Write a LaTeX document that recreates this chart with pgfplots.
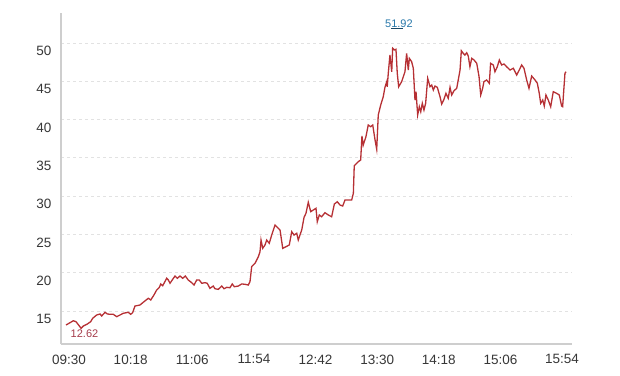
\documentclass[border=0pt]{standalone}
\usepackage{pgfplots}
\pgfplotsset{compat=1.18}
\usepackage{fontspec}
\setmainfont{Liberation Sans}
\definecolor{linered}{RGB}{182,48,52}
\definecolor{ticktext}{RGB}{55,55,55}
\definecolor{gridc}{RGB}{226,226,226}
\definecolor{axisc}{RGB}{206,206,206}
\definecolor{minc}{RGB}{165,60,75}
\definecolor{maxc}{RGB}{40,120,170}
\begin{document}
\begin{tikzpicture}
\useasboundingbox (-61bp,-32bp) rectangle (559bp,344bp);
\begin{axis}[
  at={(0,0)}, anchor=south west,
  scale only axis, width=511bp, height=331bp,
  xmin=-3.9, xmax=394.1, ymin=10.69, ymax=53.92,
  axis x line*=bottom, axis y line*=left,
  axis line style={draw=axisc, line width=1.5bp},
  major tick length=0pt,
  xtick={0,48,...,384},
  xticklabels={09:30,10:18,11:06,11:54,12:42,13:30,14:18,15:06,15:54},
  ytick={15,20,...,50},
  ymajorgrids,
  grid style={gridc, dash pattern=on 3bp off 3bp, line width=0.8bp},
  tick label style={font=\fontsize{13.5bp}{15bp}\selectfont, text=ticktext, inner sep=0pt},
  xticklabel style={anchor=north, yshift=-10.5bp, xshift=3bp},
  yticklabel style={anchor=east, xshift=-9.5bp, yshift=-8bp},
  /pgf/number format/assume math mode=true,
  clip=false,
]
\addplot[linered, line width=1.3bp] coordinates {
(0,13.17) (3.1,13.47) (5.7,13.73) (7.8,13.60) (10.4,13.04) (11.7,12.74) (13.5,13.04)
(16.6,13.30) (19.2,13.60) (20.8,14.05) (23.9,14.48) (26.5,14.61) (27.8,14.35) (30.4,14.83)
(32.2,14.61) (34.3,14.57) (36.8,14.57) (39.5,14.26) (42.1,14.48) (44.6,14.70) (48.5,14.83)
(50.4,14.57) (51.9,14.78) (53.7,15.65) (57.6,15.78) (60.7,16.21) (64.1,16.66) (66.0,16.44)
(68.5,17.09) (70.6,17.74) (72.7,18.09) (73.8,18.53) (75.3,18.30) (76.6,18.70) (78.4,19.27)
(79.7,19.05) (81.0,18.62) (83.1,19.14) (84.9,19.57) (86.7,19.27) (88.8,19.57) (90.9,19.27)
(92.9,19.57) (95.2,19.05) (97.9,18.70) (99.7,18.39) (101.8,19.05) (103.8,19.05) (105.7,18.62)
(108.3,18.70) (110.0,18.62) (112.1,17.96) (114.7,18.26) (116.0,17.91) (118.6,17.83) (121.3,18.26)
(123.1,17.91) (125.2,18.09) (127.7,18.04) (129.5,18.53) (131.1,18.17) (134.2,18.26) (136.8,18.53)
(139.4,18.49) (142.0,18.39) (143.3,18.83) (144.6,20.79) (147.2,21.23) (149.8,22.09) (151.1,22.74)
(151.9,24.27) (153.2,23.19) (155.0,23.62) (156.3,24.27) (158.3,23.84) (160.2,24.92) (162.8,26.23)
(165.3,25.80) (166.7,25.58) (168.8,23.19) (171.3,23.40) (173.9,23.62) (175.8,25.36) (177.6,24.92)
(179.7,25.15) (180.9,24.27) (182.2,24.92) (183.6,25.58) (185.4,27.24) (186.9,27.76) (188.7,29.20)
(190.6,27.97) (192.6,28.19) (194.7,28.41) (195.7,26.66) (197.3,27.54) (199.1,27.31) (201.7,27.84)
(204.3,27.54) (206.9,27.31) (209.0,28.97) (211.3,29.27) (213.4,28.84) (215.5,28.71) (217.3,29.50)
(219.9,29.50) (222.5,29.50) (223.8,30.37) (224.5,33.98) (227.6,34.50) (229.5,34.72) (230.5,37.85)
(231.5,36.68) (233.6,37.76) (235.4,39.29) (237.3,39.07) (238.9,39.29) (240.7,37.33) (242.0,36.12)
(243.2,40.60) (245.1,41.90) (247.1,42.99) (248.4,44.21) (249.8,44.95) (250.2,44.29) (251.0,46.04)
(252.3,48.43) (253.7,46.25) (254.4,49.31) (255.7,49.09) (257.0,49.18) (258.0,46.04) (259.1,44.29)
(261.4,44.95) (264.0,46.25) (265.3,48.65) (266.6,46.47) (267.4,48.00) (269.2,47.56) (270.5,46.70)
(271.8,42.56) (272.6,43.64) (273.9,40.60) (275.2,41.68) (276.3,41.03) (277.5,42.12) (278.8,41.25)
(280.1,42.12) (281.7,45.39) (283.5,44.29) (284.8,44.51) (286.1,43.86) (287.4,44.38) (289.2,44.21)
(291.3,42.99) (292.6,42.03) (294.4,42.65) (295.9,43.43) (297.7,42.78) (299.1,44.21) (300.4,43.21)
(302.2,43.77) (304.3,44.08) (305.5,45.17) (306.9,46.47) (307.9,48.99) (309.4,48.65) (310.7,48.43)
(312.1,48.73) (313.3,48.30) (314.6,46.90) (316.0,48.00) (317.8,47.78) (319.9,47.35) (321.7,45.60)
(323.0,43.21) (324.5,44.08) (325.5,44.95) (327.6,45.17) (329.7,44.74) (330.7,47.35) (332.8,47.13)
(334.1,46.25) (335.9,46.90) (337.5,47.78) (339.3,47.13) (341.1,47.26) (343.2,46.90) (345.8,46.47)
(348.4,46.70) (351.0,45.82) (353.0,46.47) (354.9,47.13) (356.7,46.70) (358.8,45.17) (360.6,44.08)
(362.7,45.69) (365.3,45.17) (367.1,44.74) (368.6,43.43) (369.7,42.12) (371.3,42.56) (372.5,41.77)
(373.8,43.21) (375.6,42.56) (377.5,41.68) (379.5,43.64) (382.1,43.43) (384.2,43.21) (386.0,41.77)
(386.8,41.68) (388.6,46.04) (389.4,46.25)
};
\node[text=minc, font=\fontsize{11bp}{13bp}\selectfont, inner sep=0pt] at (axis cs:14.4,12.09) {12.62};
\node[text=maxc, font=\fontsize{11bp}{13bp}\selectfont, inner sep=0pt] at (axis cs:259.3,52.57) {51.92};
\draw[maxc!60!black, line width=0.8bp] (axis cs:253.5,51.89) -- (axis cs:262.5,51.89);
\end{axis}
\end{tikzpicture}
\end{document}
